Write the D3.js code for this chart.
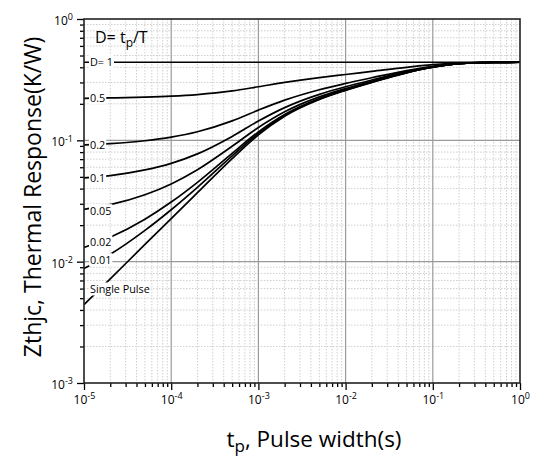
<!DOCTYPE html>
<html>
<head>
<meta charset="utf-8">
<script src="https://cdn.jsdelivr.net/npm/d3@7"></script>
<style>
  body { margin: 0; background: #fff; }
  svg { display: block; }
</style>
</head>
<body>
<svg id="chart" width="538" height="457"></svg>
<script>
// pulse widths (s) where the curves were read
var times = [1e-5, 2e-5, 5e-5, 1e-4, 2e-4, 5e-4, 1e-3, 2e-3, 5e-3, 1e-2, 2e-2, 5e-2, 1e-1, 2e-1, 5e-1, 1];

var labels = ["D= 1", "0.5", "0.2", "0.1", "0.05", "0.02", "0.01", "Single Pulse"];

// Zthjc (K/W) for each duty cycle
var zD100 = [0.44, 0.44, 0.44, 0.44, 0.44, 0.44, 0.44, 0.44, 0.44, 0.44, 0.44, 0.44, 0.44, 0.44, 0.44, 0.44];
var zD050 = [0.222, 0.2236, 0.227, 0.2313, 0.2385, 0.2555, 0.2765, 0.3, 0.329, 0.349, 0.37, 0.4, 0.42, 0.434, 0.4395, 0.44];
var zD020 = [0.0918, 0.094, 0.0992, 0.1062, 0.1176, 0.1446, 0.1775, 0.2145, 0.2614, 0.2944, 0.328, 0.376, 0.408, 0.4304, 0.4392, 0.44];
var zD010 = [0.049, 0.0512, 0.057, 0.0646, 0.0773, 0.1077, 0.1442, 0.186, 0.2391, 0.2762, 0.314, 0.368, 0.404, 0.4292, 0.4391, 0.44];
var zD005 = [0.027, 0.0295, 0.0356, 0.0437, 0.0572, 0.0893, 0.1276, 0.1719, 0.228, 0.2671, 0.307, 0.364, 0.402, 0.4286, 0.439, 0.44];
var zD002 = [0.0131, 0.0159, 0.0224, 0.031, 0.0451, 0.0782, 0.1175, 0.1635, 0.2213, 0.2616, 0.3028, 0.3616, 0.4008, 0.4282, 0.439, 0.44];
var zD001 = [0.0088, 0.0115, 0.0181, 0.0268, 0.041, 0.0745, 0.1142, 0.1606, 0.219, 0.2598, 0.3014, 0.3608, 0.4004, 0.4281, 0.439, 0.44];
var zSingle = [0.00442, 0.00721, 0.01387, 0.02265, 0.037, 0.0708, 0.1109, 0.1578, 0.2168, 0.258, 0.3, 0.36, 0.4, 0.428, 0.439, 0.44];

var xTickExp = [-5, -4, -3, -2, -1, 0];
var yTickExp = [-3, -2, -1, 0];

var seriesValues = [zD100, zD050, zD020, zD010, zD005, zD002, zD001, zSingle];
// label shift from the start of its curve (px)
var labelShift = [0, 0, 0, 0, 2, -5, -8, -15];

var svg = d3.select("#chart");
var font = "'Open Sans', sans-serif";

var pLeft = 84, pRight = 520, pTop = 19, pBottom = 383;

var x = d3.scaleLog().domain([1e-5, 1]).range([pLeft, pRight]);
var y = d3.scaleLog().domain([1e-3, 1]).range([pBottom, pTop]);

// minor values 2..9 in each decade
function minors(lo, hi) {
	var out = [];
	for (var e = lo; e < hi; e++) {
		for (var m = 2; m <= 9; m++) out.push(m * Math.pow(10, e));
	}
	return out;
}
var xMinor = minors(-5, 0);
var yMinor = minors(-3, 0);

// grid
var grid = svg.append("g");
grid.selectAll(".xm").data(xMinor).enter().append("line")
	.attr("x1", function(d) { return x(d); })
	.attr("x2", function(d) { return x(d); })
	.attr("y1", pTop).attr("y2", pBottom)
	.attr("stroke", "#cfcfcf").attr("stroke-width", 1)
	.attr("stroke-dasharray", "1.5,1.5");
grid.selectAll(".ym").data(yMinor).enter().append("line")
	.attr("y1", function(d) { return y(d); })
	.attr("y2", function(d) { return y(d); })
	.attr("x1", pLeft).attr("x2", pRight)
	.attr("stroke", "#cfcfcf").attr("stroke-width", 1)
	.attr("stroke-dasharray", "1.5,1.5");
grid.selectAll(".xM").data(xTickExp.slice(1, -1)).enter().append("line")
	.attr("x1", function(d) { return x(Math.pow(10, d)); })
	.attr("x2", function(d) { return x(Math.pow(10, d)); })
	.attr("y1", pTop).attr("y2", pBottom)
	.attr("stroke", "#9a9a9a").attr("stroke-width", 1.2);
grid.selectAll(".yM").data(yTickExp.slice(1, -1)).enter().append("line")
	.attr("y1", function(d) { return y(Math.pow(10, d)); })
	.attr("y2", function(d) { return y(Math.pow(10, d)); })
	.attr("x1", pLeft).attr("x2", pRight)
	.attr("stroke", "#9a9a9a").attr("stroke-width", 1.2);

// curves
var line = d3.line()
	.x(function(d) { return x(d[0]); })
	.y(function(d) { return y(d[1]); })
	.curve(d3.curveMonotoneX);

for (var i = 0; i < seriesValues.length; i++) {
	var pts = times.map(function(t, j) { return [t, seriesValues[i][j]]; });
	svg.append("path")
	.attr("d", line(pts))
	.attr("fill", "none")
	.attr("stroke", "#000")
	.attr("stroke-width", 1.7);
}

// curve labels with white box
for (var i = 0; i < labels.length; i++) {
	var ly = y(seriesValues[i][0]) + labelShift[i];
	var t = svg.append("text")
	.attr("x", 90)
	.attr("y", ly)
	.attr("dy", "0.35em")
	.attr("font-family", font)
	.attr("font-size", 10.8)
	.attr("fill", "#000")
	.text(labels[i]);
	var bb = t.node().getBBox();
	svg.insert("rect", function() { return t.node(); })
	.attr("x", bb.x - 1)
	.attr("y", bb.y + 1)
	.attr("width", bb.width + 2)
	.attr("height", bb.height - 2)
	.attr("fill", "#fff");
}

// axes
function powLabel(sel) {
	sel.selectAll(".tick text").each(function(d) {
		var e = Math.round(Math.log10(d));
		var txt = d3.select(this).text(null);
		txt.append("tspan").text("10");
		txt.append("tspan").attr("dy", "-0.5em").attr("font-size", 9).text(e);
	});
}

var xAxisMinor = svg.append("g").attr("transform", "translate(0," + pBottom + ")")
	.call(d3.axisBottom(x).tickValues(xMinor).tickSize(4).tickFormat(""));
var xAxis = svg.append("g").attr("transform", "translate(0," + pBottom + ")")
	.call(d3.axisBottom(x).tickValues(xTickExp.map(function(e) { return Math.pow(10, e); }))
		.tickSize(7).tickPadding(5));
var yAxisMinor = svg.append("g").attr("transform", "translate(" + pLeft + ",0)")
	.call(d3.axisLeft(y).tickValues(yMinor).tickSize(4).tickFormat(""));
var yAxis = svg.append("g").attr("transform", "translate(" + pLeft + ",0)")
	.call(d3.axisLeft(y).tickValues(yTickExp.map(function(e) { return Math.pow(10, e); }))
		.tickSize(7).tickPadding(4));

[xAxisMinor, xAxis, yAxisMinor, yAxis].forEach(function(g) {
	g.select(".domain").remove();
	g.selectAll(".tick line").attr("stroke", "#000").attr("stroke-width", 1.3);
	g.selectAll("text").attr("font-family", font).attr("font-size", 12).attr("fill", "#000");
});
xAxis.call(powLabel);
yAxis.call(powLabel);
yAxis.selectAll(".tick text").attr("dy", "0.45em");

// frame
svg.append("rect")
	.attr("x", pLeft).attr("y", pTop)
	.attr("width", pRight - pLeft).attr("height", pBottom - pTop)
	.attr("fill", "none")
	.attr("stroke", "#222")
	.attr("stroke-width", 1.6);

// D = tp/T note
var note = svg.append("text")
	.attr("x", 95).attr("y", 43)
	.attr("font-family", font).attr("font-size", 16).attr("fill", "#000");
note.append("tspan").text("D= t");
note.append("tspan").attr("dy", 4).attr("font-size", 12).text("p");
note.append("tspan").attr("dy", -4).text("/T");

// axis titles
var xt = svg.append("text")
	.attr("x", 314).attr("y", 447)
	.attr("text-anchor", "middle")
	.attr("font-family", font).attr("font-size", 22.5).attr("fill", "#000");
xt.append("tspan").text("t");
xt.append("tspan").attr("dy", 5).attr("font-size", 17).text("p");
xt.append("tspan").attr("dy", -5).text(", Pulse width(s)");

svg.append("text")
	.attr("transform", "translate(41,197) rotate(-90)")
	.attr("text-anchor", "middle")
	.attr("font-family", font).attr("font-size", 23).attr("fill", "#000")
	.text("Zthjc, Thermal Response(K/W)");
</script>
</body>
</html>
